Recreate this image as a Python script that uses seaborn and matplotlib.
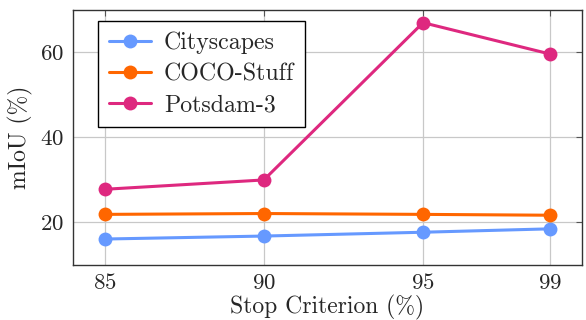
import matplotlib
matplotlib.use("Agg")
import matplotlib.pyplot as plt
import seaborn as sns
import pandas as pd

# Stop criterion thresholds (%) and resulting mIoU (%) per dataset
stop_criterion = [85, 90, 95, 99]
cityscapes = [16.1, 16.8, 17.7, 18.5]
coco_stuff = [21.9, 22.1, 21.9, 21.7]
potsdam3 = [27.8, 30.0, 67.0, 59.6]

dataset_names = ["Cityscapes", "COCO-Stuff", "Potsdam-3"]
colors = ["#6699FF", "#FF6600", "#DE287F"]

frames = []
for name, vals in zip(dataset_names, [cityscapes, coco_stuff, potsdam3]):
    frames.append(pd.DataFrame({"stop": stop_criterion, "miou": vals, "dataset": name}))
df = pd.concat(frames, ignore_index=True)

sns.set_style("white")
plt.rcParams.update({
    "font.family": "serif",
    "font.serif": ["cmr10", "DejaVu Serif"],
    "mathtext.fontset": "cm",
    "axes.formatter.use_mathtext": True,
    "font.size": 17,
})

fig = plt.figure(figsize=(5.86, 3.2), dpi=100)
ax = fig.add_axes([0.1241, 0.172, 0.8696, 0.797])

ax.grid(True, color="#c8c8c8", linewidth=0.9, zorder=0)
ax.set_axisbelow(True)

sns.lineplot(data=df, x="stop", y="miou", hue="dataset", hue_order=dataset_names,
             palette=colors, marker="o", markersize=10, markeredgewidth=0,
             linewidth=2.2, ax=ax, legend=True)

ax.set_xlim(84, 100)
ax.set_ylim(10, 70)
ax.set_xticks(stop_criterion)
ax.set_yticks([20, 40, 60])
ax.set_xlabel("Stop Criterion (%)", labelpad=1)
ax.set_ylabel("mIoU (%)", labelpad=5)

for sp in ax.spines.values():
    sp.set_color("#333333")
    sp.set_linewidth(1.0)
ax.tick_params(direction="in", length=4, width=0.8, color="#555555",
               top=True, right=True, labelsize=16.5, pad=6)

handles, labels = ax.get_legend_handles_labels()
leg = ax.legend(handles, labels, loc="upper left", bbox_to_anchor=(0.05, 0.958),
                borderaxespad=0, frameon=True, fancybox=False, framealpha=1,
                edgecolor="black", handlelength=1.75, handletextpad=0.55,
                borderpad=0.45, labelspacing=0.38, fontsize=17.2)
leg.get_frame().set_linewidth(1.0)

fig.savefig("out.png", dpi=100)
